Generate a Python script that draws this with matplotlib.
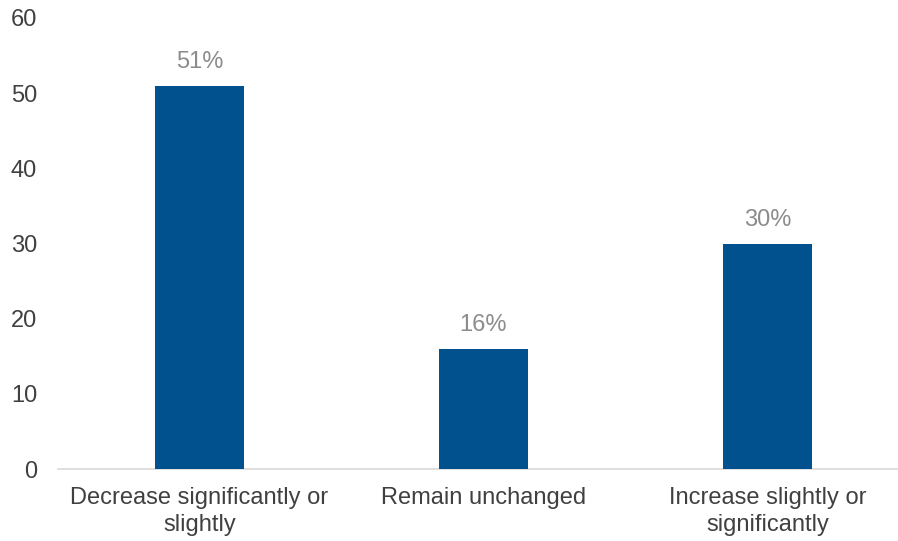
import matplotlib
matplotlib.use("Agg")
import matplotlib.pyplot as plt

categories = ["Decrease significantly or\nslightly", "Remain unchanged", "Increase slightly or\nsignificantly"]
values = [51, 16, 30]
value_labels = ["51%", "16%", "30%"]
yticks = [0, 10, 20, 30, 40, 50, 60]

plt.rcParams['font.family'] = ['Liberation Sans', 'DejaVu Sans']

fig = plt.figure(figsize=(8.98, 5.41), dpi=100)
ax = fig.add_axes([58/898, 1-469/541, 840/898, (469-18)/541])

x = list(range(len(categories)))
bars = ax.bar(x, values, width=0.313, color="#02518f", zorder=3)
for xi, v, lab in zip(x, values, value_labels):
    ax.annotate(lab, (xi, v), xytext=(0, 9), textcoords="offset points",
                ha="center", va="bottom", fontsize=17, color="#8c8c8c")

ax.set_xlim(-0.498, 2.46)
ax.set_ylim(0, 60)
ax.set_yticks(yticks)
ax.set_xticks(x)
ax.set_xticklabels(categories, fontsize=17, color="#404040", linespacing=1.3)
ax.tick_params(axis="y", labelsize=17, labelcolor="#404040", length=0, pad=15)
ax.tick_params(axis="x", length=0, pad=13)
for s in ["top", "right", "left"]:
    ax.spines[s].set_visible(False)
ax.spines["bottom"].set_color("#d9d9d9")
ax.spines["bottom"].set_linewidth(1.2)

fig.savefig("out.png", dpi=100)
